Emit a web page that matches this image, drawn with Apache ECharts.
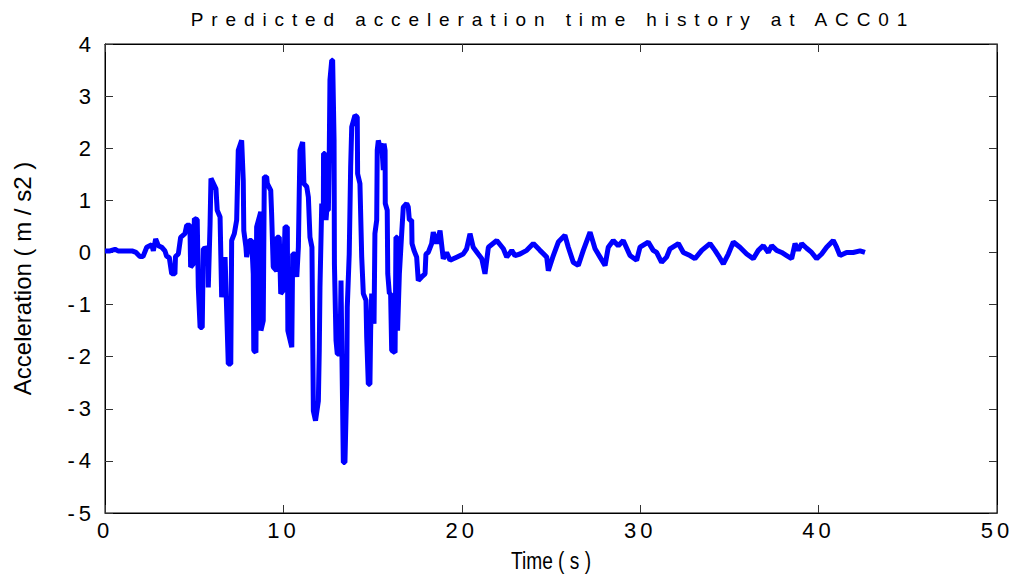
<!DOCTYPE html>
<html>
<head>
<meta charset="utf-8">
<script src="https://cdn.jsdelivr.net/npm/echarts@6/dist/echarts.min.js"></script>
<style>
  html, body { margin: 0; padding: 0; background: #ffffff; }
  #chart { width: 1017px; height: 581px; }
</style>
</head>
<body>
<div id="chart"></div>
<script>
// Time axis samples (s)
const timeS = [
  0, 0.28, 0.56, 0.73, 1.51, 1.74, 1.96, 2.13, 2.34, 2.62, 2.71, 2.84, 2.99, 3.18, 3.36, 3.46, 3.60, 3.74, 3.92, 3.95,
  4.11, 4.24, 4.48, 4.58, 4.76, 4.80, 4.95, 5.01, 5.17, 5.23, 5.33, 5.45, 5.51, 5.77, 5.79, 5.89, 5.94, 6.22, 6.29, 6.45,
  6.54, 6.73, 6.91, 7.05, 7.10, 7.25, 7.38, 7.47, 7.66, 7.75, 7.78, 7.90, 7.94, 8.09, 8.22, 8.31, 8.34, 8.46, 8.50, 8.73,
  8.74, 8.87, 8.93, 9.06, 9.10, 9.29, 9.34, 9.43, 9.62, 9.64, 9.77, 9.85, 9.99, 10.09, 10.22, 10.25, 10.47, 10.52, 10.65, 10.75,
  10.84, 10.89, 10.93, 11.08, 11.15, 11.31, 11.40, 11.49, 11.60, 11.68, 11.80, 11.96, 12.01, 12.05, 12.15, 12.24, 12.25, 12.33, 12.39, 12.43,
  12.52, 12.57, 12.61, 12.71, 12.76, 12.84, 12.86, 12.95, 13.02, 13.17, 13.23, 13.27, 13.36, 13.45, 13.55, 13.58, 13.69, 13.77, 13.83, 14.01,
  14.14, 14.16, 14.29, 14.39, 14.48, 14.63, 14.67, 14.76, 14.85, 14.89, 14.95, 15.08, 15.13, 15.23, 15.26, 15.32, 15.41, 15.51, 15.60, 15.64,
  15.70, 15.71, 15.82, 15.85, 15.94, 16.01, 16.07, 16.26, 16.31, 16.38, 16.40, 16.50, 16.63, 16.72, 16.91, 17.00, 17.06, 17.19, 17.21, 17.32,
  17.47, 17.56, 17.75, 17.94, 17.99, 18.12, 18.31, 18.40, 18.59, 18.78, 18.96, 19.15, 19.34, 19.71, 20.08, 20.27, 20.46, 20.64, 20.92, 21.12,
  21.30, 21.49, 21.96, 22.33, 22.52, 22.80, 22.98, 23.26, 23.64, 24.01, 24.38, 24.76, 24.85, 25.13, 25.41, 25.78, 25.97, 26.25, 26.53, 26.81,
  27.19, 27.47, 27.75, 28.03, 28.21, 28.49, 28.77, 29.05, 29.43, 29.80, 29.99, 30.45, 30.73, 30.92, 31.20, 31.48, 31.67, 32.14, 32.42, 32.79,
  33.07, 33.45, 33.91, 34.19, 34.38, 34.66, 34.94, 35.22, 35.59, 35.97, 36.34, 36.62, 36.90, 37.18, 37.37, 37.65, 37.93, 38.21, 38.49, 38.68,
  38.86, 39.05, 39.33, 39.61, 39.89, 40.17, 40.45, 40.82, 41.01, 41.20, 41.57, 41.94, 42.32, 42.60
];

// Predicted acceleration at ACC01 (m/s2), one value per time sample
const accel = [
  0.03, 0.03, 0.06, 0.03, 0.03, 0.00, -0.08, -0.08, 0.10, 0.15, 0.03, 0.26, 0.13, 0.10, 0.03, -0.08, -0.09, -0.41, -0.41, -0.08,
  -0.03, 0.29, 0.36, 0.52, 0.52, -0.28, -0.22, 0.65, 0.63, -0.67, -1.44, -1.44, 0.07, 0.09, -0.67, 0.55, 1.42, 1.22, 0.81, 0.68,
  -0.86, -0.09, -2.14, -2.14, 0.23, 0.36, 0.62, 1.96, 2.15, 1.38, 0.42, 0.10, -0.09, 0.23, 0.23, -0.41, -1.88, -1.92, 0.49, 0.78,
  -1.50, -1.31, 1.45, 1.45, 1.32, 1.19, 0.74, -0.28, -0.35, 0.29, 0.29, -0.79, -0.73, 0.49, 0.49, -1.50, -1.82, -0.03, -0.03, -0.47,
  0.10, 1.19, 1.96, 2.12, 1.32, 1.26, 1.06, 0.29, 0.10, -3.04, -3.23, -2.85, -1.88, -0.67, 0.94, 0.81, 1.90, 1.90, 0.62, 0.81,
  0.81, 1.90, 3.31, 3.69, 3.69, 2.15, -0.22, -1.69, -1.95, -1.95, -0.54, -1.69, -4.03, -4.03, -2.53, -1.05, -0.03, 1.64, 2.41, 2.63,
  2.60, 1.51, 1.32, -0.09, -0.79, -0.92, -1.63, -2.53, -2.53, -1.50, -0.79, -1.37, 0.36, 0.62, 1.96, 2.15, 2.03, 2.09, 1.58, 2.09,
  1.96, 0.94, 0.81, -0.41, -0.79, -0.79, -1.88, -1.92, 0.29, 0.29, -1.50, -0.41, 0.36, 0.87, 0.94, 0.87, 0.62, 0.62, 0.17, 0.04,
  -0.09, -0.54, -0.47, -0.41, -0.03, 0.00, 0.17, 0.39, 0.17, 0.42, -0.12, 0.00, -0.15, -0.09, -0.03, 0.07, 0.36, 0.10, -0.03, -0.12,
  -0.41, 0.10, 0.23, 0.07, -0.09, 0.04, -0.06, -0.03, 0.04, 0.17, 0.04, -0.09, -0.35, -0.06, 0.20, 0.33, 0.10, -0.19, -0.25, 0.04,
  0.39, 0.07, -0.09, -0.25, 0.10, 0.23, 0.13, 0.23, -0.06, -0.15, 0.10, 0.20, 0.04, 0.00, -0.19, -0.09, 0.07, 0.17, 0.00, -0.06,
  -0.12, 0.04, 0.17, 0.04, -0.06, -0.22, -0.03, 0.20, 0.10, -0.03, -0.12, 0.04, 0.13, 0.00, 0.13, 0.04, 0.00, -0.06, -0.12, 0.17,
  0.04, 0.17, 0.08, 0.00, -0.12, -0.03, 0.10, 0.23, 0.10, -0.06, 0.00, 0.00, 0.03, 0.00
];

// Axis ranges and tick steps
const xRange = [0, 50];
const xStep = 10;
const yRange = [-5, 4];
const yStep = 1;

const titleText = 'Predicted acceleration time history at ACC01';
const xName = 'Time ( s )';
const yName = 'Acceleration ( m / s2 )';

const FONT = '"Liberation Sans", Arial, Helvetica, sans-serif';
const INK = '#000000';

const points = timeS.map((t, i) => [t, accel[i]]);

const chart = echarts.init(document.getElementById('chart'), null, { renderer: 'svg' });

const tickStyle = { show: true, inside: true, length: 8, lineStyle: { color: '#333333', width: 1 } };

chart.setOption({
  animation: false,
  backgroundColor: '#ffffff',
  title: {
    text: titleText,
    left: 548,
    top: 5,
    textAlign: 'center',
    textStyle: { fontFamily: FONT, fontSize: 19, fontWeight: 'normal', color: INK }
  },
  grid: {
    left: 105, right: 20, top: 44, bottom: 68,
    show: true, borderColor: INK, borderWidth: 1, backgroundColor: 'transparent'
  },
  xAxis: [
    {
      type: 'value', min: xRange[0], max: xRange[1], interval: xStep, position: 'bottom',
      name: xName, nameLocation: 'middle', nameGap: 36,
      nameTextStyle: { fontFamily: FONT, fontSize: 23, color: INK },
      axisLine: { show: true, onZero: false, lineStyle: { color: INK, width: 1 } },
      axisTick: tickStyle,
      axisLabel: { fontFamily: FONT, fontSize: 22, color: INK, margin: 6 },
      splitLine: { show: false }
    },
    {
      type: 'value', min: xRange[0], max: xRange[1], interval: xStep, position: 'top',
      axisLine: { show: true, onZero: false, lineStyle: { color: INK, width: 1 } },
      axisTick: tickStyle, axisLabel: { show: false }, splitLine: { show: false }
    }
  ],
  yAxis: [
    {
      type: 'value', min: yRange[0], max: yRange[1], interval: yStep, position: 'left',
      name: yName, nameLocation: 'middle', nameGap: 71, nameRotate: 90,
      nameTextStyle: { fontFamily: FONT, fontSize: 24, color: INK },
      axisLine: { show: true, onZero: false, lineStyle: { color: INK, width: 1 } },
      axisTick: tickStyle,
      axisLabel: { fontFamily: FONT, fontSize: 22, color: INK, margin: 10 },
      splitLine: { show: false }
    },
    {
      type: 'value', min: yRange[0], max: yRange[1], interval: yStep, position: 'right',
      axisLine: { show: true, onZero: false, lineStyle: { color: INK, width: 1 } },
      axisTick: tickStyle, axisLabel: { show: false }, splitLine: { show: false }
    }
  ],
  series: [
    {
      type: 'line',
      data: points,
      xAxisIndex: 0,
      yAxisIndex: 0,
      showSymbol: false,
      symbol: 'none',
      silent: true,
      lineStyle: { color: '#0000ff', width: 5 },
      z: 3
    }
  ]
});

// Wide tracking on the title and tick labels; the x axis title is set a little narrower
function trackText() {
  chart.getDom().querySelectorAll('text').forEach(function (node) {
    const s = node.textContent || '';
    if (s === yName) return;
    if (s === titleText) {
      node.setAttribute('letter-spacing', '7.9');
    } else if (s === xName) {
      node.setAttribute('textLength', '80');
      node.setAttribute('lengthAdjust', 'spacingAndGlyphs');
    } else {
      node.setAttribute('letter-spacing', '4');
    }
  });
}
chart.on('finished', trackText);
setTimeout(trackText, 50);
</script>
</body>
</html>
